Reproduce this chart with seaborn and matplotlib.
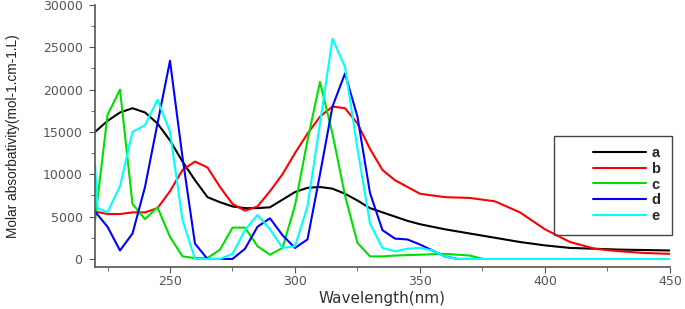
import numpy as np
import pandas as pd
import matplotlib
matplotlib.use("Agg")
import matplotlib.pyplot as plt
import seaborn as sns
from matplotlib.ticker import MultipleLocator
from matplotlib.patches import Rectangle

# wavelength (nm) / molar absorbativity
wl_a = [220, 225, 230, 235, 240, 245, 250, 255, 260, 265, 270, 275, 280, 285, 290, 295, 300, 305, 310,
        315, 320, 325, 330, 335, 340, 345, 350, 355, 360, 370, 380, 390, 400, 410, 420, 430, 440, 450]
abs_a = [15000, 16300, 17300, 17800, 17300, 16000, 14000, 11500, 9300, 7300, 6700, 6200, 6000, 6000, 6100,
         7000, 7900, 8400, 8500, 8300, 7700, 6900, 6000, 5500, 5000, 4500, 4100, 3800, 3500, 3000, 2500,
         2000, 1600, 1300, 1200, 1100, 1050, 1000]

wl_b = [220, 225, 230, 235, 240, 245, 250, 255, 260, 265, 270, 275, 280, 285, 290, 295, 300, 305, 310,
        315, 320, 325, 330, 335, 340, 345, 350, 360, 370, 380, 390, 400, 410, 420, 430, 440, 450]
abs_b = [5600, 5300, 5300, 5500, 5500, 6000, 8000, 10500, 11500, 10800, 8500, 6500, 5700, 6200, 8000,
         10000, 12500, 14800, 16800, 18000, 17800, 16000, 13000, 10500, 9300, 8500, 7700, 7300, 7200,
         6800, 5500, 3500, 2000, 1200, 900, 700, 600]

wl_c = [220, 225, 230, 235, 240, 245, 250, 255, 260, 265, 270, 275, 280, 285, 290, 295, 300, 305, 310,
        315, 320, 325, 330, 335, 340, 350, 360, 370, 375]
abs_c = [4500, 17000, 20000, 6500, 4700, 6100, 2600, 300, 100, 100, 1100, 3700, 3700, 1500, 500, 1300,
         6300, 14000, 20900, 14800, 7500, 1900, 300, 300, 400, 500, 600, 400, 0]

wl_d = [220, 225, 230, 235, 240, 245, 250, 255, 260, 265, 270, 275, 280, 285, 290, 295, 300, 305, 310,
        315, 320, 325, 330, 335, 340, 345, 350, 355, 360, 365, 375]
abs_d = [5600, 3800, 1000, 3000, 8500, 16000, 23400, 12000, 1800, 0, 0, 0, 1200, 3800, 4800, 2800, 1300,
         2300, 10000, 18000, 21900, 16800, 7800, 3400, 2400, 2300, 1700, 1000, 300, 0, 0]

wl_e = [220, 221, 225, 230, 235, 240, 245, 250, 255, 260, 265, 270, 275, 280, 285, 290, 295, 300, 305,
        310, 315, 320, 325, 330, 335, 340, 345, 350, 355, 360, 365, 450]
abs_e = [11200, 6000, 5500, 8600, 15000, 15800, 18800, 15000, 4600, 0, 0, 0, 600, 3400, 5200, 3500, 1300,
         1500, 6200, 16000, 26000, 22700, 13000, 4200, 1300, 900, 1200, 1300, 1000, 300, 0, 0]

labels = ["a", "b", "c", "d", "e"]
colors = ["#000000", "#ff0000", "#00e000", "#0000ff", "#00ffff"]

frames = []
for lab, wl, ab in zip(labels, [wl_a, wl_b, wl_c, wl_d, wl_e], [abs_a, abs_b, abs_c, abs_d, abs_e]):
    frames.append(pd.DataFrame({"wl": wl, "abs": ab, "sample": lab}))
df = pd.concat(frames, ignore_index=True)

sns.set_style("ticks")
plt.rcParams['font.family'] = ['Liberation Sans', 'DejaVu Sans']

fig = plt.figure(figsize=(6.85, 3.09), dpi=100)
ax = fig.add_axes([0.1387, 0.136, 0.8393, 0.848])

sns.lineplot(data=df, x="wl", y="abs", hue="sample", palette=dict(zip(labels, colors)),
             linewidth=1.5, sort=False, ax=ax)

ax.set_xlim(220, 450)
ax.set_ylim(-950, 30000)
ax.xaxis.set_major_locator(MultipleLocator(50))
ax.xaxis.set_minor_locator(MultipleLocator(25))
ax.yaxis.set_major_locator(MultipleLocator(5000))
ax.yaxis.set_minor_locator(MultipleLocator(2500))
ax.tick_params(which="both", direction="out", color="#555555", labelcolor="#555555")
ax.tick_params(which="major", length=4)
ax.tick_params(which="minor", length=3)
ax.tick_params(axis="x", pad=2)
ax.tick_params(axis="y", pad=5)
for lbl in ax.get_xticklabels() + ax.get_yticklabels():
    lbl.set_fontfamily("DejaVu Sans")
    lbl.set_fontsize(9)
for s in ["top", "right"]:
    ax.spines[s].set_visible(False)
for s in ["left", "bottom"]:
    ax.spines[s].set_color("#555555")
    ax.spines[s].set_linewidth(1.2)

ax.set_xlabel("Wavelength(nm)", fontsize=11, color="#333333", labelpad=2, family="DejaVu Sans")
ax.set_ylabel("Molar absorbativity(mol-1.cm-1.L)", fontsize=9.8, color="#222222", labelpad=16)

leg = ax.legend(loc="upper left", bbox_to_anchor=(0.8657, 0.5275), bbox_transform=fig.transFigure,
                frameon=False, prop={"size": 10.5, "weight": "bold"}, handlelength=3.6,
                handletextpad=0.4, labelspacing=0.12, borderpad=0, borderaxespad=0)
fig.add_artist(Rectangle((554 / 685, 1 - 235 / 309), 118 / 685, 99 / 309, transform=fig.transFigure,
                         fill=False, edgecolor="#444444", linewidth=1.0))

fig.savefig("out.png", dpi=100)
